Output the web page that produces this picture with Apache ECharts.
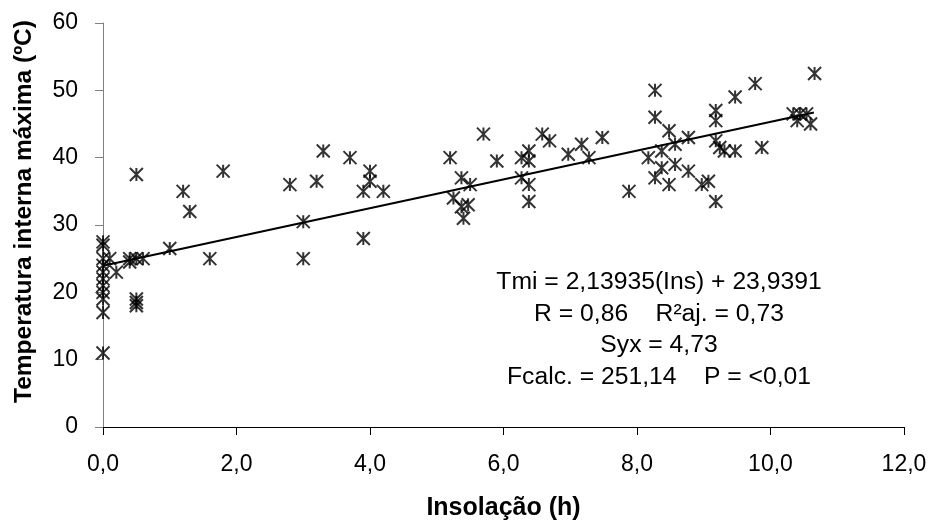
<!DOCTYPE html>
<html>
<head>
<meta charset="utf-8">
<script src="https://cdn.jsdelivr.net/npm/echarts@6/dist/echarts.min.js"></script>
<style>html,body{margin:0;padding:0;background:#fff}#c{width:931px;height:527px}</style>
</head>
<body>
<div id="c"></div>
<script>
// Insolação (h)
const insolacao = [
  0,0,0,0,0,0,0,0,0,0,0,
  0.1,0.2,0.4,0.4,0.5,0.6,0.5,0.5,0.5,0.5,
  1.0,1.2,1.3,1.6,1.8,
  2.8,3.0,3.0,3.2,3.3,3.7,3.9,3.9,4.0,4.0,4.2,
  5.2,5.25,5.37,5.37,5.4,5.47,5.5,5.7,5.9,
  6.27,6.27,6.38,6.38,6.38,6.38,6.58,6.69,6.97,7.17,7.28,7.48,7.88,
  8.17,8.27,8.27,8.27,8.37,8.37,8.48,8.48,8.57,8.57,8.77,8.77,8.97,9.07,
  9.18,9.18,9.18,9.18,9.24,9.31,9.47,9.47,9.77,9.87,
  10.34,10.4,10.44,10.54,10.6,10.66
];
// Temperatura interna máxima (ºC)
const tempMax = [
  27.5,27,25,24,23,22,21,20,19,17,11,
  25,23,24.5,25,25,25,19,18.5,18,37.5,
  26.5,35,32,25,38,
  36,30.5,25,36.5,41,40,35,28,38,36.5,35,
  40,34,37,32.7,31,33,36,43.5,39.5,
  40,37,41,39.5,36,33.5,43.5,42.5,40.5,42,40,43,35,
  40,50,46,37,41,38.5,44,36,42,39,43,38,36,36.5,
  47,45.5,42.5,33.5,41.5,41,41,49,51,41.5,
  46.5,45.5,46.5,46.5,45,52.5
];
// Trend line end points (Tmi = 2,13935(Ins) + 23,9391)
const trendX = [0, 10.65];
const trendY = [23.94, 46.72];
const xTickLabels = ['0,0','2,0','4,0','6,0','8,0','10,0','12,0'];
const yTickLabels = ['0','10','20','30','40','50','60'];
const statLines = [
  'Tmi = 2,13935(Ins) + 23,9391',
  'R = 0,86\u00a0\u00a0\u00a0\u00a0R\u00b2aj. = 0,73',
  'Syx = 4,73',
  'Fcalc. = 251,14\u00a0\u00a0\u00a0\u00a0P = <0,01'
];

const FONT = '"Liberation Sans", Arial, sans-serif';
const chart = echarts.init(document.getElementById('c'), null, {renderer: 'canvas'});
const pts = insolacao.map((x, i) => [x, tempMax[i]]);
const trend = trendX.map((x, i) => [x, trendY[i]]);

const statY = [282, 313.7, 345.4, 377];
const graphics = statLines.map((t, i) => ({
  type: 'text', x: 659, y: statY[i], z: 100,
  style: {text: t, fontFamily: FONT, fontSize: 24.7, fill: '#000', textAlign: 'center', textVerticalAlign: 'middle'}
}));
graphics.push({
  type: 'text', x: 24, y: 211.5, rotation: Math.PI / 2, z: 100,
  style: {text: 'Temperatura interna máxima (ºC)', fontFamily: FONT, fontSize: 24.5, fontWeight: 'bold', fill: '#000', textAlign: 'center', textVerticalAlign: 'middle'}
});

chart.setOption({
  animation: false,
  backgroundColor: '#fff',
  grid: {left: 103, right: 27, top: 23, bottom: 100, containLabel: false},
  xAxis: {
    type: 'value', min: 0, max: 12, interval: 2,
    name: 'Insolação (h)', nameLocation: 'middle', nameGap: 69,
    nameTextStyle: {fontFamily: FONT, fontSize: 25, fontWeight: 'bold', color: '#000'},
    axisLine: {show: true, onZero: false, lineStyle: {color: '#000', width: 1}},
    axisTick: {show: true, inside: false, length: 8, lineStyle: {color: '#000'}},
    axisLabel: {fontFamily: FONT, fontSize: 23, color: '#000', margin: 26,
      formatter: v => xTickLabels[Math.round(v / 2)]},
    splitLine: {show: false}
  },
  yAxis: {
    type: 'value', min: 0, max: 60, interval: 10,
    axisLine: {show: true, onZero: false, lineStyle: {color: '#808080', width: 1}},
    axisTick: {show: true, inside: false, length: 8, lineStyle: {color: '#808080'}},
    axisLabel: {fontFamily: FONT, fontSize: 23, color: '#000', margin: 25,
      formatter: v => yTickLabels[Math.round(v / 10)]},
    splitLine: {show: false}
  },
  graphic: graphics,
  series: [
    {
      type: 'scatter', data: pts,
      symbol: 'path://M0,0L12,12M12,0L0,12M6,0L6,12',
      symbolSize: 13,
      itemStyle: {color: '#000', borderColor: '#000', borderWidth: 2},
      z: 3
    },
    {
      type: 'line', data: trend, showSymbol: false, symbol: 'none',
      lineStyle: {color: '#000', width: 2}, z: 4
    }
  ]
});
</script>
</body>
</html>
